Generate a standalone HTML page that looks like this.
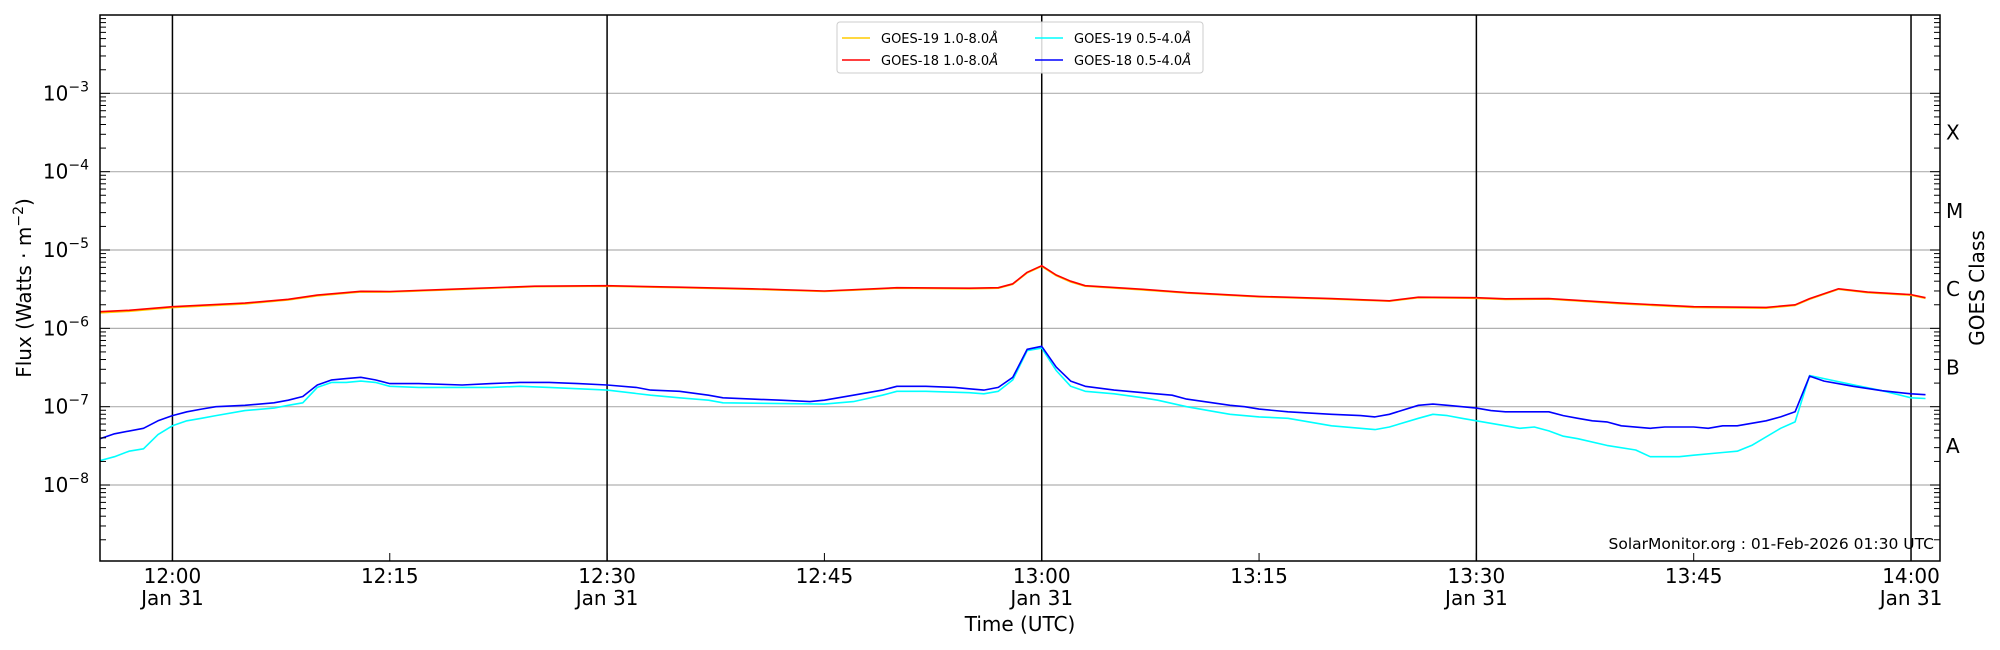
<!DOCTYPE html>
<html><head><meta charset="utf-8"><style>
html,body{margin:0;padding:0;background:#fff;}
svg{display:block;font-family:"DejaVu Sans","Liberation Sans",sans-serif;}
</style></head><body>
<svg id="chart" width="2000" height="650" viewBox="0 0 2000 650" xmlns="http://www.w3.org/2000/svg">
<g id="grid"></g>
<g id="series"></g>
<g id="axes"></g>
<text x="1934" y="549" text-anchor="end" font-size="15.5">SolarMonitor.org : 01-Feb-2026 01:30 UTC</text>
<text transform="translate(31,288) rotate(-90)" text-anchor="middle" font-size="20">Flux (Watts · m<tspan dy="-8" font-size="14">−2</tspan><tspan dy="8">)</tspan></text>
<text transform="translate(1984,288) rotate(-90)" text-anchor="middle" font-size="20">GOES Class</text>
<text x="1020" y="631" text-anchor="middle" font-size="20">Time (UTC)</text>
<g>
<rect x="837" y="22" width="366" height="51" rx="3" fill="#fff" fill-opacity="0.85" stroke="#ccc"/>
<line x1="842" y1="38" x2="870" y2="38" stroke="#ffcc00" stroke-width="1.5"/>
<text x="881" y="43" font-size="13">GOES-19 1.0-8.0<tspan font-style="italic">Å</tspan></text>
<line x1="842" y1="60" x2="870" y2="60" stroke="#ff0000" stroke-width="1.5"/>
<text x="881" y="65" font-size="13">GOES-18 1.0-8.0<tspan font-style="italic">Å</tspan></text>
<line x1="1035" y1="38" x2="1063" y2="38" stroke="#00ffff" stroke-width="1.5"/>
<text x="1074" y="43" font-size="13">GOES-19 0.5-4.0<tspan font-style="italic">Å</tspan></text>
<line x1="1035" y1="60" x2="1063" y2="60" stroke="#0000ff" stroke-width="1.5"/>
<text x="1074" y="65" font-size="13">GOES-18 0.5-4.0<tspan font-style="italic">Å</tspan></text>
</g>
</svg>
<script>
// minutes after 12:00 UTC, Jan 31
const longTimes = [-5,-3,0,5,8,10,13,15,20,25,30,35,40,45,50,55,57,58,59,60,61,62,63,67,70,75,80,84,86,90,92,95,100,105,110,112,113,115,117,120,121];
const goes18Long = [1.63e-6,1.7e-6,1.89e-6,2.1e-6,2.35e-6,2.66e-6,2.97e-6,2.95e-6,3.2e-6,3.45e-6,3.5e-6,3.35e-6,3.2e-6,3.0e-6,3.3e-6,3.25e-6,3.3e-6,3.7e-6,5.2e-6,6.3e-6,4.8e-6,4.0e-6,3.5e-6,3.15e-6,2.86e-6,2.56e-6,2.4e-6,2.25e-6,2.5e-6,2.46e-6,2.38e-6,2.4e-6,2.1e-6,1.89e-6,1.85e-6,2.0e-6,2.4e-6,3.2e-6,2.9e-6,2.7e-6,2.46e-6];
const goes19Long = [1.58e-6,1.65e-6,1.84e-6,2.05e-6,2.3e-6,2.6e-6,2.92e-6,2.9e-6,3.15e-6,3.4e-6,3.45e-6,3.3e-6,3.15e-6,2.95e-6,3.25e-6,3.2e-6,3.25e-6,3.65e-6,5.1e-6,6.2e-6,4.7e-6,3.9e-6,3.45e-6,3.1e-6,2.82e-6,2.52e-6,2.36e-6,2.22e-6,2.46e-6,2.42e-6,2.34e-6,2.36e-6,2.06e-6,1.85e-6,1.81e-6,1.96e-6,2.35e-6,3.15e-6,2.85e-6,2.65e-6,2.42e-6];
const shortTimes18 = [-5,-4,-2,-1,0,1,2,3,5,7,8,9,10,11,12,13,14,15,17,20,22,24,26,28,30,32,33,35,37,38,40,42,44,45,47,49,50,52,54,55,56,57,58,59,60,61,62,63,65,67,69,70,73,74,75,77,80,82,83,84,86,87,88,89,90,91,92,95,96,97,98,99,100,102,103,105,106,107,108,110,111,112,113,114,116,118,120,121];
const goes18Short = [3.9e-8,4.5e-8,5.3e-8,6.6e-8,7.7e-8,8.6e-8,9.3e-8,1.0e-7,1.04e-7,1.12e-7,1.21e-7,1.35e-7,1.89e-7,2.2e-7,2.28e-7,2.37e-7,2.2e-7,1.97e-7,1.97e-7,1.89e-7,1.97e-7,2.04e-7,2.04e-7,1.97e-7,1.89e-7,1.76e-7,1.63e-7,1.57e-7,1.4e-7,1.3e-7,1.25e-7,1.21e-7,1.16e-7,1.21e-7,1.4e-7,1.63e-7,1.82e-7,1.82e-7,1.76e-7,1.69e-7,1.63e-7,1.76e-7,2.37e-7,5.4e-7,5.9e-7,3.2e-7,2.12e-7,1.82e-7,1.63e-7,1.51e-7,1.4e-7,1.25e-7,1.04e-7,1.0e-7,9.3e-8,8.6e-8,8.0e-8,7.7e-8,7.4e-8,8.0e-8,1.04e-7,1.08e-7,1.04e-7,1.0e-7,9.6e-8,8.9e-8,8.6e-8,8.6e-8,7.7e-8,7.1e-8,6.6e-8,6.4e-8,5.7e-8,5.3e-8,5.5e-8,5.5e-8,5.3e-8,5.7e-8,5.7e-8,6.6e-8,7.4e-8,8.6e-8,2.46e-7,2.12e-7,1.82e-7,1.6e-7,1.46e-7,1.42e-7];
const shortTimes19 = [-5,-4,-3,-2,-1,0,1,2,3,5,7,8,9,10,11,12,13,14,15,17,22,24,26,30,33,35,37,38,45,47,49,50,52,55,56,57,58,59,60,61,62,63,65,67,68,70,72,73,75,77,80,82,83,84,86,87,88,89,90,92,93,94,95,96,97,99,101,102,104,105,107,108,109,111,112,113,114,116,118,120,121];
const goes19Short = [2.05e-8,2.3e-8,2.7e-8,2.9e-8,4.4e-8,5.7e-8,6.6e-8,7.1e-8,7.7e-8,8.9e-8,9.6e-8,1.04e-7,1.12e-7,1.76e-7,2.04e-7,2.04e-7,2.12e-7,2.04e-7,1.82e-7,1.76e-7,1.76e-7,1.82e-7,1.76e-7,1.63e-7,1.4e-7,1.3e-7,1.21e-7,1.12e-7,1.08e-7,1.16e-7,1.4e-7,1.57e-7,1.57e-7,1.51e-7,1.46e-7,1.57e-7,2.2e-7,5.2e-7,5.6e-7,2.9e-7,1.82e-7,1.57e-7,1.46e-7,1.3e-7,1.21e-7,1.0e-7,8.6e-8,8.0e-8,7.4e-8,7.1e-8,5.7e-8,5.3e-8,5.1e-8,5.5e-8,7.1e-8,8.0e-8,7.7e-8,7.1e-8,6.6e-8,5.7e-8,5.3e-8,5.5e-8,4.9e-8,4.2e-8,3.9e-8,3.2e-8,2.8e-8,2.3e-8,2.3e-8,2.4e-8,2.6e-8,2.7e-8,3.2e-8,5.3e-8,6.4e-8,2.5e-7,2.28e-7,1.9e-7,1.6e-7,1.3e-7,1.27e-7];
const yTickExps = [-3,-4,-5,-6,-7,-8];
const classLabels = ["X","M","C","B","A"];
const classExps = [-3.5,-4.5,-5.5,-6.5,-7.5];
const xTickMinutes = [0,15,30,45,60,75,90,105,120];
const xTickLabels = ["12:00","12:15","12:30","12:45","13:00","13:15","13:30","13:45","14:00"];
const dayLines = [0,30,60,90,120];

const L=100,R=1940,T=15,B=561;
const xMin=-5, xMax=122;
const yMinE=-8.97, yMaxE=-2.0;
const X=m=>L+(m-xMin)/(xMax-xMin)*(R-L);
const YE=e=>B-(e-yMinE)/(yMaxE-yMinE)*(B-T);
const Y=v=>YE(Math.log10(v));
const NS="http://www.w3.org/2000/svg";
function mk(tag,attrs,parent){const el=document.createElementNS(NS,tag);for(const k in attrs)el.setAttribute(k,attrs[k]);parent.appendChild(el);return el;}
const grid=document.getElementById('grid'),series=document.getElementById('series'),axes=document.getElementById('axes');

yTickExps.forEach(e=>{
  const g=mk('line',{x1:L,x2:R,y1:YE(e),y2:YE(e),stroke:'#b0b0b0','stroke-width':1.2},grid);
  
  
  const t=mk('text',{x:89,y:YE(e)+7,'text-anchor':'end','font-size':20},axes);
  
  
  t.textContent='10';
  const s=mk('tspan',{dy:-9,'font-size':14},t); s.textContent='−'+(-e);
});
dayLines.forEach(m=>{
  const l=mk('line',{x1:X(m),x2:X(m),y1:T,y2:B,stroke:'#000','stroke-width':1.5},grid);
  
  
});
function drawSeries(times,vals,color,name){
  const d=times.map((t,i)=>(i?'L':'M')+X(t).toFixed(1)+','+Y(vals[i]).toFixed(1)).join(' ');
  const p=mk('path',{d:d,fill:'none',stroke:color,'stroke-width':1.6,'stroke-linejoin':'round'},series);
  
  
}
drawSeries(longTimes,goes19Long,'#ffcc00','goes19-long-line');
drawSeries(longTimes,goes18Long,'#ff0000','goes18-long-line');
drawSeries(shortTimes19,goes19Short,'#00ffff','goes19-short-line');
drawSeries(shortTimes18,goes18Short,'#0000ff','goes18-short-line');

const fr=mk('rect',{x:L,y:T,width:R-L,height:B-T,fill:'none',stroke:'#000','stroke-width':1.5},axes);


for(let e=-9;e<-2;e++){
  for(let k=1;k<10;k++){
    const v=Math.log10(k)+e; if(v<yMinE||v>yMaxE) continue;
    const len=k===1?10:6, y=YE(v);
    mk('line',{x1:L,x2:L+len,y1:y,y2:y,stroke:'#000','stroke-width':1},axes);
    mk('line',{x1:R,x2:R-len,y1:y,y2:y,stroke:'#000','stroke-width':1},axes);
  }
}
classLabels.forEach((c,i)=>{
  const t=mk('text',{x:1946,y:YE(classExps[i])+7,'font-size':20},axes);
  
  
  t.textContent=c;
});
xTickMinutes.forEach((m,i)=>{
  const x=X(m);
  mk('line',{x1:x,x2:x,y1:B,y2:B-8,stroke:'#000','stroke-width':1},axes);
  const t=mk('text',{x:x,y:583,'text-anchor':'middle','font-size':20},axes);
  
  
  t.textContent=xTickLabels[i];
  if(m%30===0){
    const d=mk('text',{x:x,y:605,'text-anchor':'middle','font-size':20},axes);
    
    
    d.textContent='Jan 31';
  }
});
</script>
</body></html>
